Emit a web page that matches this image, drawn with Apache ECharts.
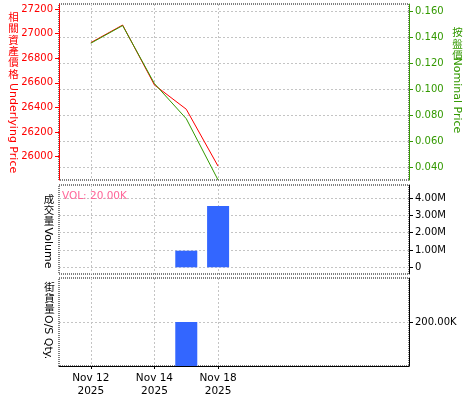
<!DOCTYPE html>
<html>
<head>
<meta charset="utf-8">
<script src="https://cdn.jsdelivr.net/npm/echarts@6/dist/echarts.min.js"></script>
<style>html,body{margin:0;padding:0;background:#fff;}#c{width:475px;height:400px;}</style>
</head>
<body>
<div id="c"></div>
<script>
// ---- data ----
const categories = ['Nov 11\n2025','Nov 12\n2025','Nov 13\n2025','Nov 14\n2025','Nov 17\n2025','Nov 18\n2025','Nov 19\n2025','Nov 20\n2025','Nov 21\n2025','Nov 24\n2025','Nov 25\n2025','Nov 26\n2025'];
const labeledIdx = [1, 3, 5];
const underlyingPrice = [null, 26927, 27070, 26583, 26386, 25923, null, null, null, null, null, null];
const nominalPrice = [null, 0.1353, 0.1489, 0.1042, 0.0772, 0.0300, null, null, null, null, null, null];
const volume = [null, null, null, null, 958000, 3540000, null, null, null, null, null, null];
const osQty = [null, null, null, null, 200000, null, null, null, null, null, null, null];
const underlyingTicks = [26000, 26200, 26400, 26600, 26800, 27000, 27200];
const nominalTicks = [0.04, 0.06, 0.08, 0.10, 0.12, 0.14, 0.16];
const volumeTicks = [0, 1000000, 2000000, 3000000, 4000000];
const qtyTicks = [200000];
const volLabel = 'VOL: 20.00K';

const RED = '#ff0000', GREEN = '#339900', BLUE = '#3366ff', GRID = '#c4c4c4';
const FONT = 'DejaVu Sans';

const chart = echarts.init(document.getElementById('c'), null, {renderer: 'canvas'});

const showIdx = (i) => labeledIdx.indexOf(i) >= 0;
function xAxisFor(gi, bottom) {
  return {
    type: 'category', gridIndex: gi, data: categories, boundaryGap: false,
    axisLine: {show: bottom, lineStyle: {color: '#000', width: 1}},
    axisTick: {show: bottom, interval: (i) => showIdx(i), length: 3, lineStyle: {color: '#000'}},
    axisLabel: {show: bottom, interval: (i) => showIdx(i), color: '#000', fontFamily: FONT, fontSize: 10.5, lineHeight: 13, margin: 6},
    splitLine: {show: true, interval: (i) => showIdx(i), lineStyle: {color: GRID, type: [2, 2]}}
  };
}
function fmtVol(v) {
  if (v === 0) return '0';
  if (v >= 1e6) return (v / 1e6).toFixed(2) + 'M';
  return (v / 1e3).toFixed(2) + 'K';
}

// vertical mixed text: upright CJK + rotated latin
function vText(cjk, latin, x, yCjk, stepCjk, xLatin, yLatin, color) {
  const els = [];
  cjk.split('').forEach((ch, i) => {
    els.push({type: 'text', x: x, y: yCjk + i * stepCjk, silent: true,
      style: {text: ch, font: '10.5px "Noto Sans CJK TC"', fill: color, align: 'center', verticalAlign: 'top'}});
  });
  els.push({type: 'text', x: xLatin, y: yLatin, rotation: -Math.PI / 2, silent: true,
    style: {text: latin, font: '11px "DejaVu Sans"', fill: color, align: 'left', verticalAlign: 'middle'}});
  return els;
}

const graphics = [].concat(
  vText('相關資產價格', 'Underlying Price', 13.5, 11.8, 11.35, 12.5, 83, RED),
  vText('按盤價', 'Nominal Price', 457.5, 26.8, 11.7, 456.5, 57.5, GREEN),
  vText('成交量', 'Volume', 49, 193.8, 11, 48, 227.5, '#000'),
  vText('街貨量', 'O/S Qty.', 49.5, 281.8, 11, 48, 315, '#000'),
  [{type: 'text', x: 62, y: 191, silent: true, z: 10,
    style: {text: volLabel, font: '10.5px "DejaVu Sans"', fill: '#ff6699', align: 'left', verticalAlign: 'top'}}]
);

const gridBase = {left: 59, right: 66, show: true, borderColor: '#000', borderWidth: 1, borderType: [1, 1]};

chart.setOption({
  animation: false,
  backgroundColor: '#fff',
  grid: [
    Object.assign({top: 4, height: 176}, gridBase),
    Object.assign({top: 185, height: 89}, gridBase),
    Object.assign({top: 278, height: 88}, gridBase)
  ],
  xAxis: [xAxisFor(0, false), xAxisFor(1, false), xAxisFor(2, true)],
  yAxis: [
    {type: 'value', gridIndex: 0, position: 'left', min: 25811, max: 27241, scale: true,
      axisLine: {show: true, lineStyle: {color: RED}},
      axisTick: {show: true, length: 4, customValues: underlyingTicks, lineStyle: {color: RED}},
      axisLabel: {color: RED, fontFamily: FONT, fontSize: 10, margin: 6, customValues: underlyingTicks,
        formatter: (v) => String(Math.round(v))},
      splitLine: {show: false}},
    {type: 'value', gridIndex: 0, position: 'right', min: 0.030, max: 0.1655, scale: true,
      axisLine: {show: true, lineStyle: {color: GREEN}},
      axisTick: {show: true, length: 4, customValues: nominalTicks, lineStyle: {color: GREEN}},
      axisLabel: {color: GREEN, fontFamily: FONT, fontSize: 10, margin: 6, customValues: nominalTicks,
        formatter: (v) => v.toFixed(3)},
      splitLine: {show: true, lineStyle: {color: GRID, type: [2, 2]}}},
    {type: 'value', gridIndex: 1, position: 'right', min: -387000, max: 4750000,
      axisLine: {show: true, lineStyle: {color: '#000'}},
      axisTick: {show: true, length: 4, customValues: volumeTicks, lineStyle: {color: '#000'}},
      axisLabel: {color: '#000', fontFamily: FONT, fontSize: 10, margin: 6, customValues: volumeTicks, formatter: fmtVol},
      splitLine: {show: true, lineStyle: {color: GRID, type: [2, 2]}}},
    {type: 'value', gridIndex: 2, position: 'right', min: 0, max: 400000,
      axisLine: {show: true, lineStyle: {color: '#000'}},
      axisTick: {show: true, length: 4, customValues: qtyTicks, lineStyle: {color: '#000'}},
      axisLabel: {color: '#000', fontFamily: FONT, fontSize: 10, margin: 6, customValues: qtyTicks, formatter: fmtVol},
      splitLine: {show: true, lineStyle: {color: GRID, type: [2, 2]}}}
  ],
  series: [
    {type: 'line', name: 'Underlying', xAxisIndex: 0, yAxisIndex: 0, data: underlyingPrice, symbol: 'none',
      lineStyle: {color: RED, width: 1}, itemStyle: {color: RED}, connectNulls: false},
    {type: 'line', name: 'Nominal', xAxisIndex: 0, yAxisIndex: 1, data: nominalPrice, symbol: 'none',
      lineStyle: {color: GREEN, width: 1}, itemStyle: {color: GREEN}},
    {type: 'bar', name: 'Volume', xAxisIndex: 1, yAxisIndex: 2, data: volume, barWidth: 22, itemStyle: {color: BLUE}},
    {type: 'bar', name: 'O/S Qty', xAxisIndex: 2, yAxisIndex: 3, data: osQty, barWidth: 22, itemStyle: {color: BLUE}}
  ],
  graphic: graphics
});
</script>
</body>
</html>
